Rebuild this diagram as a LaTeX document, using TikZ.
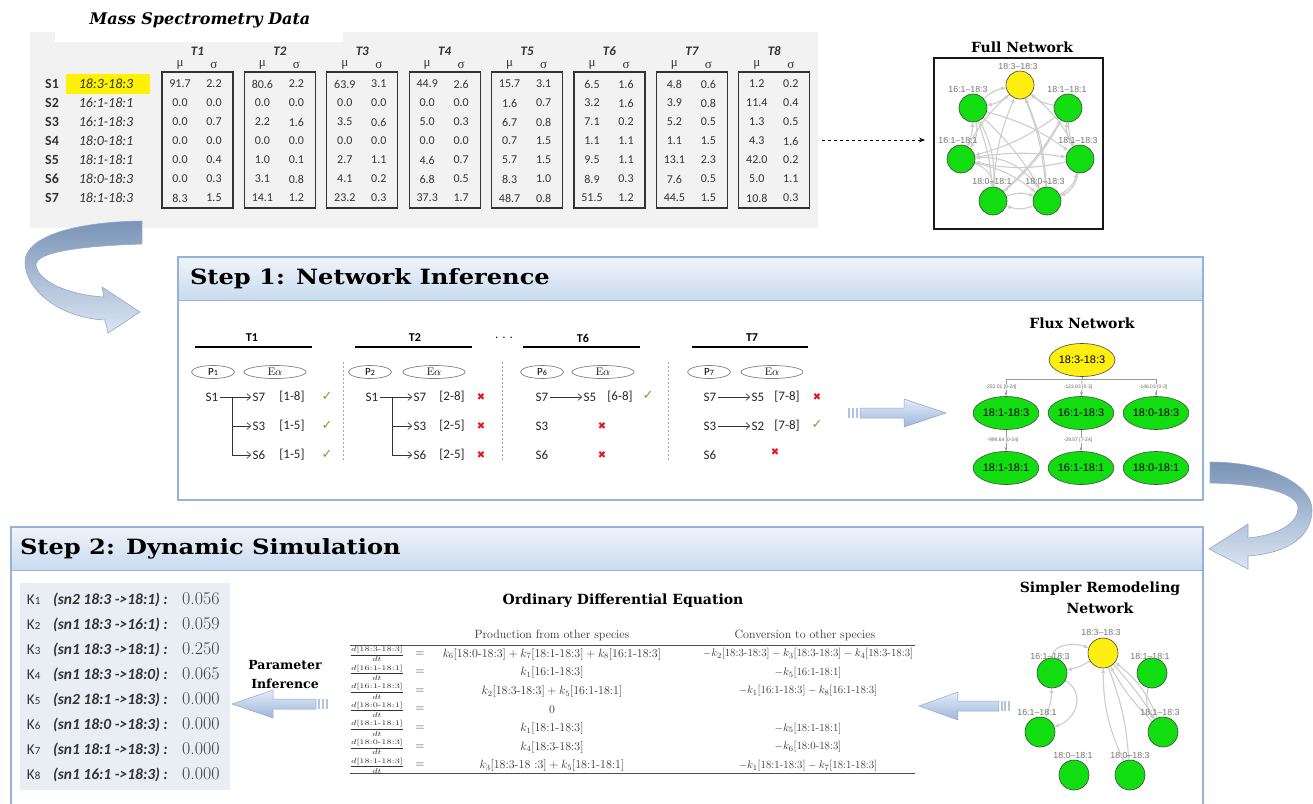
\documentclass[tikz,border=0pt]{standalone}
\usepackage{fontspec}
\usepackage{amsmath}
\usepackage{graphicx}
\usetikzlibrary{arrows.meta,shapes.geometric,calc}
\newfontfamily\calf{Carlito}
\newfontfamily\titf{DejaVu Serif}
\newfontfamily\symf{DejaVu Sans}
\newfontfamily\grkf{Liberation Serif}
\newfontfamily\labf{Liberation Sans}
\definecolor{tablebg}{HTML}{F2F2F2}
\definecolor{hiyel}{HTML}{FFF200}
\definecolor{nodegreen}{HTML}{11DD11}
\definecolor{nodeyel}{HTML}{FFEE11}
\definecolor{edgegray}{HTML}{CDCDCD}
\definecolor{stepline}{HTML}{95B3D7}
\definecolor{stepA}{HTML}{F0F4FA}
\definecolor{stepB}{HTML}{C9DAEF}
\definecolor{kbg}{HTML}{E9EEF4}
\definecolor{arrA}{HTML}{E3ECF7}
\definecolor{arrB}{HTML}{9DB7DB}
\definecolor{arrline}{HTML}{8FA9CF}
\definecolor{bigA}{HTML}{7A93B6}
\definecolor{bigB}{HTML}{DCE6F3}
\definecolor{okgreen}{HTML}{8A9A2E}
\definecolor{badred}{HTML}{E8141B}
\definecolor{txt}{HTML}{333333}
\pgfdeclarelayer{back}
\pgfdeclarelayer{edges}
\pgfsetlayers{back,edges,main}
\newcommand\brk[1]{\mbox{[#1]}}
\newcommand\ddt[1]{\scalebox{1.3}[1]{$\dfrac{d\brk{#1}}{dt}$}}
\tikzset{featharrow/.pic={
  \fill[arrB!80] (0,-5) rectangle (2,5);
  \fill[arrB!80] (4,-5) rectangle (6,5);
  \fill[arrB!80] (8,-5) rectangle (10,5);
  \path[draw=arrline,line width=0.5pt,top color=arrA,bottom color=arrB]
    (12,-5) -- (56,-5) -- (56,-14) -- (98,0) -- (56,14) -- (56,5) -- (12,5) -- cycle;
}}
\begin{document}
\begin{tikzpicture}[x=1pt,y=-1pt,
  every node/.style={inner sep=0pt,outer sep=0pt},
  tabnum/.style={font=\calf\fontsize{12}{12}\selectfont,text=txt},
  tabname/.style={font=\calf\itshape\fontsize{14}{14}\selectfont,text=txt},
  tabS/.style={font=\calf\bfseries\fontsize{14}{14}\selectfont,text=txt},
  thead/.style={font=\calf\bfseries\itshape\fontsize{13}{13}\selectfont,text=txt},
  grk/.style={font=\grkf\fontsize{13}{13}\selectfont,text=txt},
  tbox/.style={draw=black!80,line width=1.3pt,minimum width=71,minimum height=136},
  fncirc/.style={circle,draw=black!75,fill=nodegreen,minimum size=28,line width=0.6pt},
  fnyel/.style={fncirc,fill=nodeyel},
  netlab/.style={font=\labf\fontsize{8.8}{9}\selectfont,text=black!55},
  netedge/.style={draw=edgegray,line width=1.1pt,-{Latex[length=5pt,width=4.5pt]}},
  fluxnode/.style={ellipse,draw=black!70,fill=nodegreen,minimum width=55,minimum height=33,font=\labf\fontsize{11}{11}\selectfont,line width=0.6pt},
  fluxyel/.style={fluxnode,fill=nodeyel},
  fluxlab/.style={font=\labf\fontsize{5}{5}\selectfont,text=black!60,fill=white,inner sep=0.5pt},
  fluxedge/.style={draw=black!40,line width=0.7pt},
  titlefont/.style={font=\titf\bfseries\fontsize{14}{14}\selectfont},
  steptitle/.style={font=\titf\bfseries\fontsize{21}{21}\selectfont,anchor=west},
  s1t/.style={font=\calf\fontsize{13}{13}\selectfont,text=black!85,inner sep=1.5pt},
  s1head/.style={font=\calf\bfseries\fontsize{12}{12}\selectfont},
  hline/.style={line width=2.5pt},
  sepline/.style={draw=gray!70,dash pattern=on 2pt off 2pt,line width=0.6pt},
  pe/.style={ellipse,draw=gray,line width=0.7pt,minimum width=43,minimum height=13,font=\calf\fontsize{11}{11}\selectfont},
  ea/.style={pe,minimum width=62,font=\fontsize{11}{11}\selectfont},
  okmark/.style={font=\symf\fontsize{13}{13}\selectfont,text=okgreen},
  badmark/.style={font=\symf\fontsize{10}{10}\selectfont,text=badred},
  treearr/.style={draw=black!80,line width=0.6pt,-{Straight Barb[length=4pt,width=7pt]}},
  kK/.style={font=\calf\fontsize{15}{15}\selectfont,anchor=base west,text=txt},
  kP/.style={font=\calf\bfseries\itshape\fontsize{15.5}{15.5}\selectfont,anchor=base west,text=txt},
  kV/.style={font=\fontsize{18}{18}\selectfont,anchor=base west,text=black!75},
  odehead/.style={font=\fontsize{12}{13}\selectfont,text=black!80},
  odeprod/.style={font=\fontsize{12}{13}\selectfont,text=black!80},
  odeconv/.style={font=\fontsize{11}{12}\selectfont,text=black!80},
  fracfont/.style={font=\fontsize{7}{8}\selectfont,text=black!80},
  bigarrow/.style={draw=arrline,line width=0.6pt,top color=bigA,bottom color=bigB}
]
\useasboundingbox (0,0) rectangle (1313,803);
\clip (0,0) rectangle (1313,803);

% ---------------- backgrounds ----------------
\begin{pgfonlayer}{back}
\fill[tablebg] (30,32) rectangle (818,228);
\fill[white] (55,30) rectangle (343,42);
% step 1
\fill[white] (178,257) rectangle (1203,500);
\shade[top color=stepA,bottom color=stepB] (178,257) rectangle (1203,300);
\draw[stepline,line width=1.2pt] (178,257) rectangle (1203,500);
\draw[stepline,line width=0.6pt] (178,300) -- (1203,300);
% step 2
\fill[white] (11,527) rectangle (1203,810);
\shade[top color=stepA,bottom color=stepB] (11,527) rectangle (1203,570);
\draw[stepline,line width=1.2pt] (11,527) rectangle (1203,810);
\draw[stepline,line width=0.6pt] (11,570) -- (1203,570);
\fill[kbg] (20,583) rectangle (230,790);
\end{pgfonlayer}

% ---------------- big curved arrows ----------------
\path[bigarrow] (142,221) .. controls (70,222) and (25,238) .. (25,262)
  .. controls (25,290) and (60,318) .. (105,320) -- (108,333) -- (140,312)
  -- (102,287) -- (104,297) .. controls (70,295) and (38,282) .. (36,265)
  .. controls (36,252) and (80,246) .. (142,244) -- cycle;
\path[bigarrow] (1210,462) .. controls (1270,462) and (1312,485) .. (1312,510)
  .. controls (1312,535) and (1290,553) .. (1248,556) -- (1248,569) -- (1209,549)
  -- (1248,524) -- (1248,538) .. controls (1280,535) and (1298,522) .. (1298,508)
  .. controls (1298,494) and (1265,484) .. (1210,483) -- cycle;

% ---------------- Mass spectrometry table ----------------
\node[font=\titf\bfseries\itshape\fontsize{16}{16}\selectfont] (mstitle) at (200,20) {Mass Spectrometry Data};
\node[fill=hiyel,minimum width=84,minimum height=20] (hl) at (108,84) {};
\foreach \s/\n [count=\r] in {S1/18:3-18:3,S2/16:1-18:1,S3/16:1-18:3,S4/18:0-18:1,S5/18:1-18:1,S6/18:0-18:3,S7/18:1-18:3}{
  \node[tabS] (sl\r) at (52,65+19*\r) {\s};
  \node[tabname] (sn\r) at (106,65+19*\r) {\n};
}
\foreach \vals [count=\c] in {
 {91.7/2.2,0.0/0.0,0.0/0.7,0.0/0.0,0.0/0.4,0.0/0.3,8.3/1.5},
 {80.6/2.2,0.0/0.0,2.2/1.6,0.0/0.0,1.0/0.1,3.1/0.8,14.1/1.2},
 {63.9/3.1,0.0/0.0,3.5/0.6,0.0/0.0,2.7/1.1,4.1/0.2,23.2/0.3},
 {44.9/2.6,0.0/0.0,5.0/0.3,0.0/0.0,4.6/0.7,6.8/0.5,37.3/1.7},
 {15.7/3.1,1.6/0.7,6.7/0.8,0.7/1.5,5.7/1.5,8.3/1.0,48.7/0.8},
 {6.5/1.6,3.2/1.6,7.1/0.2,1.1/1.1,9.5/1.1,8.9/0.3,51.5/1.2},
 {4.8/0.6,3.9/0.8,5.2/0.5,1.1/1.5,13.1/2.3,7.6/0.5,44.5/1.5},
 {1.2/0.2,11.4/0.4,1.3/0.5,4.3/1.6,42.0/0.2,5.0/1.1,10.8/0.3}}{
  \pgfmathsetmacro\bx{162+82.4*(\c-1)}
  \node[tbox] (box\c) at (\bx+35.5,140) {};
  \node[thead] (th\c) at (\bx+35.5,51) {T\c};
  \node[grk] (mu\c) at (\bx+18,65) {μ};
  \node[grk] (sg\c) at (\bx+52,65) {σ};
  \foreach \m/\s [count=\r] in \vals {
    \node[tabnum] (m\c-\r) at (\bx+18,65+19*\r) {\m};
    \node[tabnum] (s\c-\r) at (\bx+52,65+19*\r) {\s};
  }
}

% ---------------- Full network ----------------
\node[titlefont] (fntitle) at (1022,47) {Full Network};
\node[draw=black!90,line width=1.2pt,minimum width=169,minimum height=171] (fullbox) at (1018.5,143.5) {};
\draw[black,line width=0.9pt,dash pattern=on 3pt off 3pt,-{Stealth[length=6pt,width=5pt]},shorten <=12pt,shorten >=9pt] (box8.east) -- (box8.east -| fullbox.west);
\node[fnyel] (fn1) at (1020,85) {};
\node[fncirc] (fn2) at (973,108) {};
\node[fncirc] (fn3) at (1068,108) {};
\node[fncirc] (fn4) at (961,159) {};
\node[fncirc] (fn5) at (1080,159) {};
\node[fncirc] (fn6) at (993,201) {};
\node[fncirc] (fn7) at (1047,201) {};
\node[netlab] (fl1) at (1018,66) {18:3–18:3};
\node[netlab] (fl2) at (968,89) {16:1–18:3};
\node[netlab] (fl3) at (1067,89) {18:1–18:1};
\node[netlab] (fl4) at (958,140) {16:1–18:1};
\node[netlab] (fl5) at (1078,140) {18:1–18:3};
\node[netlab] (fl6) at (992,181) {18:0–18:1};
\node[netlab] (fl7) at (1045,181) {18:0–18:3};
\begin{pgfonlayer}{edges}
\foreach \a/\b/\bb in {1/2/15,2/1/15,3/1/15,1/5/12,4/1/10,6/1/10,1/7/10,7/1/-8,2/5/10,2/7/8,2/4/25,4/2/-12,3/4/10,3/6/10,5/3/18,3/5/-12,4/5/8,5/4/12,4/6/35,6/7/20,7/6/20,5/7/30,7/5/-25,2/6/8,6/3/-8,4/7/12,7/4/-30,6/2/-15}{
  \draw[netedge] (fn\a) to[bend left=\bb] (fn\b);
}
\end{pgfonlayer}

% ---------------- Step 1 ----------------
\node[steptitle] (st1) at (190,279) {\scalebox{1.15}[1]{Step 1: Network Inference}};
\node[s1head] (h1) at (252,338) {T1};
\node[s1head] (h2) at (415,338) {T2};
\node[s1head] (h6) at (583,338) {T6};
\node[s1head] (h7) at (752,338) {T7};
\node[s1t] (dots) at (504,338) {. . .};
\draw[hline] (195,347) -- (312,347);
\draw[hline] (355,347) -- (472,347);
\draw[hline] (523,347) -- (640,347);
\draw[hline] (692,347) -- (808,347);
\draw[sepline] (343,362) -- (343,462);
\draw[sepline] (502,362) -- (502,462);
\draw[sepline] (668,362) -- (668,462);
\node[pe] (p1) at (213,372) {P\raisebox{-0.5pt}{\fontsize{8}{8}\selectfont 1}};
\node[ea] (e1) at (275,372) {$\mathrm{E}\alpha$};
\node[pe] (p2) at (370,372) {P\raisebox{-0.5pt}{\fontsize{8}{8}\selectfont 2}};
\node[ea] (e2) at (434,372) {$\mathrm{E}\alpha$};
\node[pe] (p6) at (542,372) {P\raisebox{-0.5pt}{\fontsize{8}{8}\selectfont 6}};
\node[ea] (e6) at (603,372) {$\mathrm{E}\alpha$};
\node[pe] (p7) at (709,372) {P\raisebox{-0.5pt}{\fontsize{8}{8}\selectfont 7}};
\node[ea] (e7) at (772,372) {$\mathrm{E}\alpha$};
% T1
\node[s1t] (a1s1) at (212,397) {S1};
\node[s1t] (a1s7) at (259,397) {S7};
\node[s1t] (a1s3) at (259,426) {S3};
\node[s1t] (a1s6) at (259,455) {S6};
\node[s1t] (a1r1) at (292,397) {[1-8]};
\node[s1t] (a1r2) at (292,426) {[1-5]};
\node[s1t] (a1r3) at (292,455) {[1-5]};
\node[okmark] (a1k1) at (327,396) {✓};
\node[okmark] (a1k2) at (327,425) {✓};
\node[okmark] (a1k3) at (327,454) {✓};
\coordinate (a1j) at (232,397);
\draw[treearr] (a1s1) -- (a1s7);
\draw[treearr] (a1j) |- (a1s3);
\draw[treearr] (a1j) |- (a1s6);
% T2
\node[s1t] (a2s1) at (372,397) {S1};
\node[s1t] (a2s7) at (420,397) {S7};
\node[s1t] (a2s3) at (420,426) {S3};
\node[s1t] (a2s6) at (420,455) {S6};
\node[s1t] (a2r1) at (452,397) {[2-8]};
\node[s1t] (a2r2) at (452,426) {[2-5]};
\node[s1t] (a2r3) at (452,455) {[2-5]};
\node[badmark] (a2k1) at (481,397) {✖};
\node[badmark] (a2k2) at (481,426) {✖};
\node[badmark] (a2k3) at (481,455) {✖};
\coordinate (a2j) at (392,397);
\draw[treearr] (a2s1) -- (a2s7);
\draw[treearr] (a2j) |- (a2s3);
\draw[treearr] (a2j) |- (a2s6);
% T6
\node[s1t] (a6s7) at (542,397) {S7};
\node[s1t] (a6s5) at (590,397) {S5};
\node[s1t] (a6r1) at (620,397) {[6-8]};
\node[okmark] (a6k1) at (648,395) {✓};
\node[s1t] (a6s3) at (542,426) {S3};
\node[badmark] (a6k2) at (602,426) {✖};
\node[s1t] (a6s6) at (542,455) {S6};
\node[badmark] (a6k3) at (602,455) {✖};
\draw[treearr] (a6s7) -- (a6s5);
% T7
\node[s1t] (a7s7) at (710,397) {S7};
\node[s1t] (a7s5) at (758,397) {S5};
\node[s1t] (a7r1) at (787,397) {[7-8]};
\node[badmark] (a7k1) at (817,397) {✖};
\node[s1t] (a7s3) at (710,426) {S3};
\node[s1t] (a7s2) at (758,426) {S2};
\node[s1t] (a7r2) at (787,426) {[7-8]};
\node[okmark] (a7k2) at (817,424) {✓};
\node[s1t] (a7s6) at (710,455) {S6};
\node[badmark] (a7k3) at (775,452) {✖};
\draw[treearr] (a7s7) -- (a7s5);
\draw[treearr] (a7s3) -- (a7s2);
% feather arrow
\pic at (848,413) {featharrow};

% ---------------- Flux network ----------------
\node[titlefont] (fxtitle) at (1082,323) {Flux Network};
\node[fluxyel] (fx1) at (1082,360) {18:3-18:3};
\node[fluxnode] (fx2) at (1006,413) {18:1-18:3};
\node[fluxnode] (fx3) at (1081,413) {16:1-18:3};
\node[fluxnode] (fx4) at (1156,413) {18:0-18:3};
\node[fluxnode] (fx5) at (1006,468) {18:1-18:1};
\node[fluxnode] (fx6) at (1081,468) {16:1-18:1};
\node[fluxnode] (fx7) at (1156,468) {18:0-18:1};
\coordinate (fxbar) at (1082,379);
\begin{pgfonlayer}{edges}
\draw[fluxedge] (fx1) -- (fxbar);
\draw[fluxedge,-{Latex[length=4pt,width=3pt]}] (fxbar) -| (fx2);
\draw[fluxedge,-{Latex[length=4pt,width=3pt]}] (fxbar) -| (fx4);
\draw[fluxedge,-{Latex[length=4pt,width=3pt]}] (fxbar) -- (fx3);
\draw[fluxedge,-{Latex[length=4pt,width=3pt]}] (fx2) -- (fx5);
\draw[fluxedge,-{Latex[length=4pt,width=3pt]}] (fx3) -- (fx6);
\end{pgfonlayer}
\node[fluxlab] (fxl1) at (1001,387) {-252.01 [0-24]};
\node[fluxlab] (fxl2) at (1078,387) {-123.93 [0-3]};
\node[fluxlab] (fxl3) at (1153,387) {-146.03 [0-3]};
\node[fluxlab] (fxl4) at (1003,440) {-999.64 [0-24]};
\node[fluxlab] (fxl5) at (1078,440) {-29.57 [7-24]};

% ---------------- Step 2 ----------------
\node[steptitle] (st2) at (20,549) {\scalebox{1.15}[1]{Step 2: Dynamic Simulation}};
\foreach \r/\p/\v in {1/{(sn2 18:3 ->18:1) :}/0.056,2/{(sn1 18:3 ->16:1) :}/0.059,3/{(sn1 18:3 ->18:1) :}/0.250,4/{(sn1 18:3 ->18:0) :}/0.065,5/{(sn2 18:1 ->18:3) :}/0.000,6/{(sn1 18:0 ->18:3) :}/0.000,7/{(sn1 18:1 ->18:3) :}/0.000,8/{(sn1 16:1 ->18:3) :}/0.000}{
  \pgfmathsetmacro\yy{604+25.1*(\r-1)}
  \node[kK] (kk\r) at (27,\yy) {K{\fontsize{11}{11}\selectfont\r}};
  \node[kP] (kp\r) at (53,\yy) {\p};
  \node[kV] (kv\r) at (182,\yy) {\v};
}
\node[font=\titf\bfseries\fontsize{12.5}{12.5}\selectfont] (pi1) at (285,665) {Parameter};
\node[font=\titf\bfseries\fontsize{12.5}{12.5}\selectfont] (pi2) at (285,684) {Inference};
\pic[xscale=-0.98] at (328,704) {featharrow};

% ODE
\node[titlefont] (odetitle) at (623,601) {Ordinary Differential Equation};
\node[odehead] (hp) at (552,635) {Production from other species};
\node[odehead] (hc) at (805,635) {Conversion to other species};
\draw[black!70,line width=0.8pt] (350,645) -- (915,645);
\draw[black!70,line width=0.8pt] (350,773) -- (915,773);
\foreach \r/\num/\prod/\conv in {
 1/18:3-18:3/{$k_6\brk{18:0-18:3}+k_7\brk{18:1-18:3}+k_8\brk{16:1-18:3}$}/{$-k_2\brk{18:3-18:3}-k_3\brk{18:3-18:3}-k_4\brk{18:3-18:3}$},
 2/16:1-18:1/{$k_1\brk{16:1-18:3}$}/{$-k_5\brk{16:1-18:1}$},
 3/16:1-18:3/{$k_2\brk{18:3-18:3}+k_5\brk{16:1-18:1}$}/{$-k_1\brk{16:1-18:3}-k_8\brk{16:1-18:3}$},
 4/18:0-18:1/{$0$}/{},
 5/18:1-18:1/{$k_1\brk{18:1-18:3}$}/{$-k_5\brk{18:1-18:1}$},
 6/18:0-18:3/{$k_4\brk{18:3-18:3}$}/{$-k_6\brk{18:0-18:3}$},
 7/18:1-18:3/{$k_3\brk{18:3-18 :3}+k_5\brk{18:1-18:1}$}/{$-k_1\brk{18:1-18:3}-k_7\brk{18:1-18:3}$}}{
  \pgfmathsetmacro\yy{654+18.6*(\r-1)}
  \node[fracfont] (of\r) at (377,\yy) {\ddt{\num}};
  \node[odeprod] (oe\r) at (420,\yy) {$=$};
  \node[odeprod] (op\r) at (552,\yy) {\prod};
  \node[odeconv] (oc\r) at (808,\yy) {\conv};
}
\pic[xscale=-0.93] at (1010,706) {featharrow};

% ---------------- Simpler remodeling network ----------------
\node[titlefont] (srt1) at (1100,589) {Simpler Remodeling};
\node[titlefont] (srt2) at (1100,608) {Network};
\node[fnyel,minimum size=30] (sr1) at (1103,653) {};
\node[fncirc,minimum size=30] (sr2) at (1052,673) {};
\node[fncirc,minimum size=30] (sr3) at (1152,673) {};
\node[fncirc,minimum size=30] (sr4) at (1040,732) {};
\node[fncirc,minimum size=30] (sr5) at (1163,732) {};
\node[fncirc,minimum size=30] (sr6) at (1074,775) {};
\node[fncirc,minimum size=30] (sr7) at (1130,775) {};
\node[netlab] (srl1) at (1101,632) {18:3–18:3};
\node[netlab] (srl2) at (1050,656) {16:1–18:3};
\node[netlab] (srl3) at (1150,656) {18:1–18:1};
\node[netlab] (srl4) at (1037,712) {16:1–18:1};
\node[netlab] (srl5) at (1160,712) {18:1–18:3};
\node[netlab] (srl6) at (1073,755) {18:0–18:1};
\node[netlab] (srl7) at (1130,755) {18:0–18:3};
\begin{pgfonlayer}{edges}
\draw[netedge] (sr2.north) to[out=90,in=160] (sr1);
\draw[netedge] (sr1) to[bend left=10] (sr2);
\draw[netedge] (sr2) to[out=-30,in=20,looseness=1.3] (sr4);
\draw[netedge] (sr4) to[bend right=10] (sr2);
\draw[netedge] (sr1) to[bend left=5] (sr5);
\draw[netedge] (sr3) to[bend right=25] (sr5);
\draw[netedge] (sr5) to[bend left=8] (sr1);
\draw[netedge] (sr5) to[bend right=15] (sr1);
\draw[netedge] (sr7) to[bend left=12] (sr1);
\draw[netedge] (sr1) to[bend left=8] (sr7);
\end{pgfonlayer}
\end{tikzpicture}
\end{document}
